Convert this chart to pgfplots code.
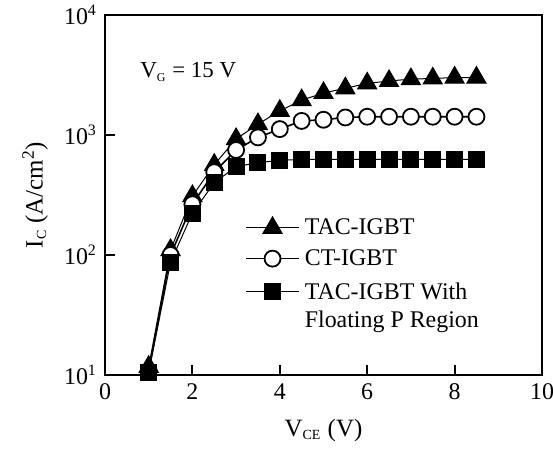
\documentclass[border=0pt]{standalone}
\usepackage{fontspec}
\setmainfont{Liberation Serif}
\usepackage{pgfplots}
\pgfplotsset{compat=1.18}
\begin{document}
\begin{tikzpicture}
\useasboundingbox (-52.5bp,-40.5bp) rectangle (224bp,187.5bp);
\begin{axis}[
  at={(0,0)}, anchor=south west,
  scale only axis, width=218.5bp, height=180bp,
  xmin=0, xmax=10, ymin=10, ymax=10000,
  ymode=log,
  axis line style={line width=1bp},
  tick style={line width=1bp, black},
  tick align=inside, tickpos=left,
  major tick length=5bp, minor tick length=0pt,
  xtick={0,2,4,6,8,10}, xticklabels={0,2,4,6,8,10},
  ytick={10,100,1000,10000},
  yticklabels={10\textsuperscript{1},10\textsuperscript{2},10\textsuperscript{3},10\textsuperscript{4}},
  yminorticks=false,
  every tick label/.append style={font=\fontsize{12}{14}\selectfont},
  yticklabel style={xshift=-0.5bp},
  xticklabel style={yshift=-1bp},
  xlabel={V\textsubscript{\fontsize{7}{8}\selectfont CE} (V)},
  ylabel={I\textsubscript{\fontsize{7}{8}\selectfont C} (A/cm\textsuperscript{2})},
  label style={font=\fontsize{12.5}{14}\selectfont},
  xlabel style={at={(axis description cs:0.5,-0.153)}, anchor=center},
  ylabel style={at={(axis description cs:-0.16,0.5)}, anchor=center},
  legend cell align=left,
  legend style={draw=none, fill=none, at={(rel axis cs:0.32,0.45)}, anchor=north west,
    font=\fontsize{12}{14}\selectfont, row sep=1bp, inner sep=0pt,
    nodes={inner sep=2.5bp}},
  legend image code/.code={\draw[mark repeat=2,mark phase=2] plot coordinates {(0bp,0bp) (13.25bp,0bp) (26.5bp,0bp)};},
]
\addplot[black, line width=0.5pt, mark=triangle*, mark size=5.5bp, mark options={solid, fill=black}]
coordinates {(1,11.7) (1.5,110) (2,310) (2.5,565) (3,926) (3.5,1230) (4,1590) (4.5,1950) (5,2240) (5.5,2450) (6,2690) (6.5,2820) (7,2920) (7.5,2960) (8,3010) (8.5,3010)};
\addlegendentry{TAC-IGBT}
\addplot[black, line width=0.8pt, mark=*, mark size=4bp, mark options={solid, fill=white, line width=0.9pt}]
coordinates {(1,10.8) (1.5,100) (2,265) (2.5,490) (3,750) (3.5,955) (4,1120) (4.5,1310) (5,1340) (5.5,1400) (6,1420) (6.5,1420) (7,1420) (7.5,1420) (8,1420) (8.5,1420)};
\addlegendentry{CT-IGBT}
\addplot[black, line width=0.5pt, mark=square*, mark size=4bp, mark options={solid, fill=black}]
coordinates {(1,10.5) (1.5,87) (2,223) (2.5,400) (3,545) (3.5,588) (4,615) (4.5,626) (5,626) (5.5,626) (6,626) (6.5,626) (7,626) (7.5,626) (8,626) (8.5,626)};
\addlegendentry{\begin{tabular}[t]{@{}l@{}}TAC-IGBT With\\Floating P Region\end{tabular}}
\node[anchor=west, font=\fontsize{11.5}{13}\selectfont, inner sep=0pt] at (rel axis cs:0.08,0.842) {V\textsubscript{\fontsize{6}{7}\selectfont G} = 15 V};
\end{axis}
\end{tikzpicture}
\end{document}
